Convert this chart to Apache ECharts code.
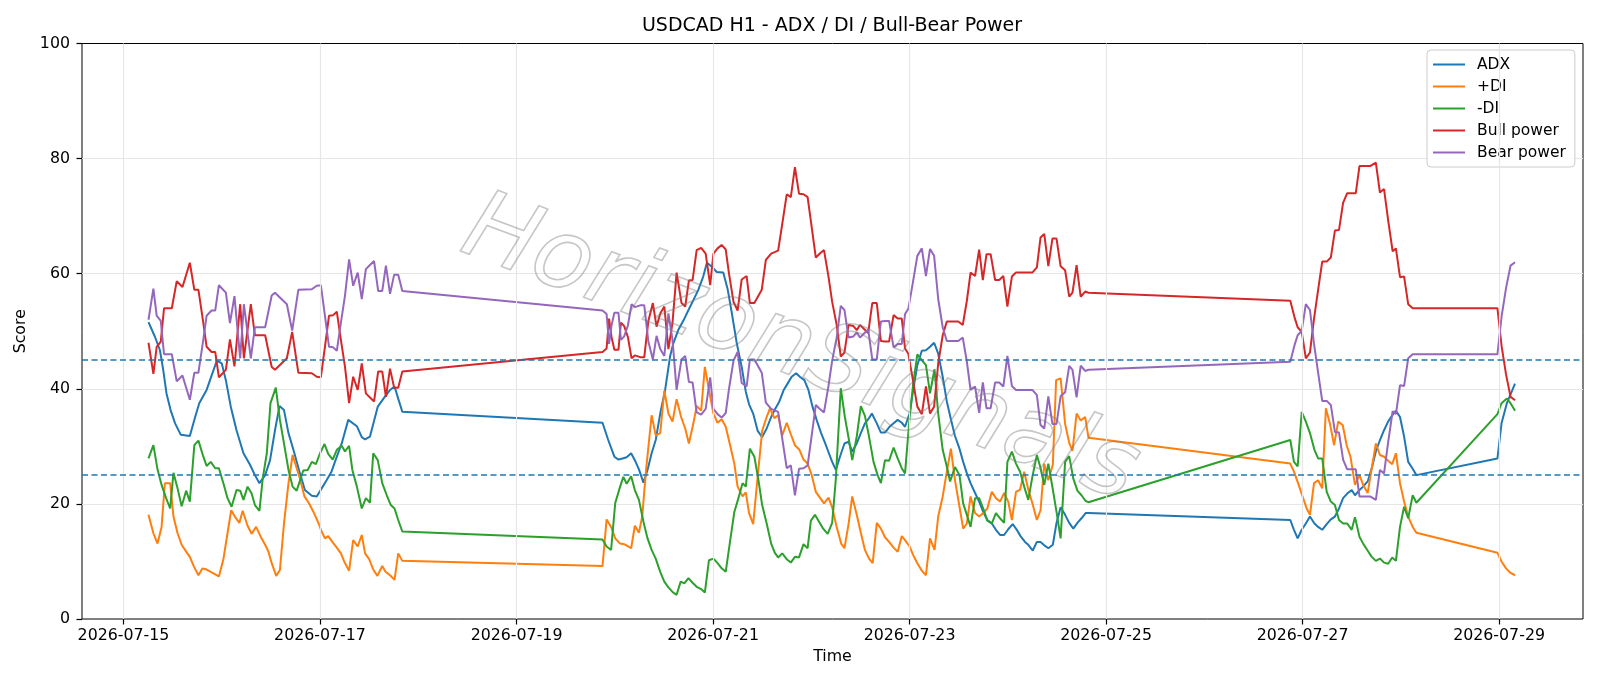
<!DOCTYPE html>
<html>
<head>
<meta charset="utf-8">
<script src="https://cdn.jsdelivr.net/npm/echarts@6.0.0/dist/echarts.min.js"></script>
<style>
  html, body { margin: 0; padding: 0; background: #fff; }
  #chart { width: 1600px; height: 686px; }
</style>
</head>
<body>
<div id="chart"></div>
<script>
// x values are hours since 2026-07-15 00:00
const xTicks = [0, 48, 96, 144, 192, 240, 288, 336];
const yTicks = [0, 20, 40, 60, 80, 100];
const thresholds = [45, 25];

const adx = [
  [6.1,51.6],[7.7,49.0],[8.9,46.7],[9.7,43.3],[10.5,39.2],[11.5,36.3],[12.6,34.0],[14.0,32.0],[16.2,31.8],[17.5,35.1],
  [18.5,37.5],[20.3,39.8],[22.8,44.9],[24.0,44.4],[25.0,41.5],[26.2,36.9],[27.6,32.8],[29.3,28.8],[30.9,26.8],[32.1,25.0],
  [33.2,23.6],[34.6,25.0],[35.8,27.6],[37.0,32.8],[38.1,37.0],[39.2,36.3],[40.3,32.3],[41.5,29.4],[43.1,25.3],[44.3,22.4],
  [46.0,21.4],[47.2,21.3],[48.4,22.7],[49.6,24.1],[50.8,25.6],[52.1,28.2],[53.3,30.5],[54.9,34.6],[57.0,33.5],[58.2,31.6],
  [59.0,31.2],[60.2,31.7],[62.1,36.9],[63.5,38.3],[65.1,39.8],[66.2,40.4],[67.1,38.3],[68.1,36.0],
  [117.0,34.1],[118.4,31.1],[119.9,28.2],[120.9,27.7],[121.9,27.9],[122.9,28.1],[124.0,28.8],[124.9,27.6],[125.9,26.0],[127.0,23.7],
  [128.0,25.9],[129.0,28.8],[130.0,31.1],[131.1,35.7],[132.3,39.8],[133.5,45.6],[134.3,47.9],[135.5,50.2],[136.8,51.9],[138.0,53.7],
  [139.2,55.4],[140.4,57.2],[141.6,59.5],[142.5,61.9],[143.7,61.2],[144.9,60.3],[146.5,60.2],[147.6,57.2],[148.6,53.1],[149.8,47.9],
  [151.0,43.8],[152.0,39.5],[152.8,37.3],[153.8,35.7],[154.9,32.7],[156.0,31.6],[157.1,33.1],[158.2,35.1],[159.1,36.4],[160.2,37.8],
  [161.2,39.7],[162.2,40.9],[163.2,42.1],[164.3,42.7],[165.2,42.1],[166.3,41.5],[167.3,39.8],[168.3,36.9],[169.3,34.6],[170.4,32.3],
  [171.4,30.5],[172.3,28.8],[173.1,27.3],[174.0,25.9],[175.0,28.2],[176.1,30.5],[177.1,30.8],[178.0,29.1],[179.1,30.5],[180.1,32.3],
  [181.1,34.0],[182.1,34.9],[182.8,35.7],[184.0,34.0],[185.0,32.4],[186.0,32.4],[187.0,33.3],[188.1,34.0],[189.1,34.6],[190.1,34.1],
  [190.9,33.4],[192.0,35.7],[192.9,39.8],[193.9,44.1],[195.0,46.6],[196.0,46.7],[197.0,47.3],[198.0,48.0],[199.0,46.1],[200.1,42.1],
  [201.1,37.8],[202.1,34.7],[203.1,31.8],[204.2,29.6],[205.1,27.3],[206.0,25.3],[206.9,23.6],[208.0,21.9],[209.0,20.4],[210.0,18.6],
  [211.0,17.2],[212.1,16.6],[213.1,15.5],[214.1,14.6],[215.1,14.6],[216.1,15.6],[217.2,16.5],[218.2,15.5],[219.1,14.4],[220.2,13.4],
  [221.0,12.9],[222.1,11.9],[223.1,13.4],[224.0,13.4],[225.1,12.7],[225.9,12.3],[227.0,12.9],[227.9,16.7],[228.9,19.4],[230.0,18.1],
  [231.0,16.7],[232.0,15.7],[233.0,16.7],[234.0,17.5],[235.0,18.4],[235.7,18.4],
  [285.0,17.2],[285.9,15.5],[286.8,14.0],[287.8,15.5],[288.8,16.6],[289.8,17.8],[290.9,16.6],[291.8,16.0],[292.8,15.5],[293.9,16.5],
  [294.9,17.3],[295.9,17.8],[296.9,19.2],[297.9,21.0],[298.9,21.8],[300.0,22.4],[300.8,21.5],[301.9,22.4],[302.8,23.0],[303.9,23.9],
  [304.9,26.2],[305.9,29.1],[306.9,31.1],[307.9,32.8],[308.9,34.3],[309.9,35.4],[310.8,36.2],[311.8,35.1],[312.8,31.7],[313.8,27.3],
  [314.9,26.1],[315.8,25.0],
  [335.6,27.9],[336.6,34.0],[337.9,37.5],[339.9,40.9]
];

const plusDI = [
  [6.1,18.1],[7.3,14.9],[8.3,13.1],[9.3,16.0],[10.1,23.6],[11.4,23.6],[12.2,17.8],[13.2,14.9],[14.2,12.9],[15.3,11.7],
  [16.2,10.8],[17.2,9.1],[18.3,7.6],[19.3,8.8],[20.3,8.6],[21.3,8.2],[23.3,7.4],[24.4,10.4],[25.4,14.9],[26.3,18.9],
  [27.2,17.8],[28.3,16.7],[29.1,18.8],[30.3,16.2],[31.3,14.8],[32.4,16.0],[33.5,14.3],[34.6,12.9],[35.4,11.7],[36.2,9.7],
  [37.3,7.5],[38.2,8.5],[39.2,16.6],[40.3,23.6],[41.3,28.5],[43.1,24.4],[44.2,21.3],[45.3,20.1],[46.4,18.6],[47.6,16.7],
  [48.4,15.2],[49.2,14.0],[50.0,14.4],[51.0,13.4],[52.1,12.4],[53.1,11.4],[53.9,10.0],[55.1,8.4],[56.1,13.7],[57.2,12.6],
  [58.2,14.6],[59.0,11.4],[60.0,10.4],[61.0,8.6],[62.0,7.5],[63.2,9.2],[64.0,8.2],[65.1,7.6],[66.2,6.8],[67.1,11.4],[68.1,10.1],
  [117.0,9.2],[118.0,17.3],[119.1,16.0],[120.1,14.0],[121.3,13.1],[122.3,13.0],[124.0,12.3],[124.9,16.2],[125.9,15.0],[126.7,17.8],
  [127.6,25.6],[129.0,35.4],[130.0,31.9],[131.1,32.3],[132.1,39.7],[133.1,35.7],[134.1,34.3],[135.1,38.2],[136.2,35.1],[137.2,33.1],
  [138.1,30.5],[139.2,34.0],[140.0,37.0],[141.1,36.2],[142.0,43.8],[143.0,39.8],[144.1,35.7],[145.1,34.1],[146.1,34.7],[147.1,33.4],
  [148.2,30.1],[149.2,27.0],[150.0,23.0],[151.2,21.3],[152.0,22.0],[152.8,18.4],[153.8,16.5],[154.9,24.7],[156.0,32.7],[157.1,35.1],
  [157.9,36.6],[159.0,34.9],[159.9,35.4],[160.9,31.9],[162.0,34.1],[163.0,32.1],[164.0,30.2],[165.1,29.4],[166.1,27.7],[167.1,27.0],
  [168.1,25.0],[169.1,22.1],[170.1,21.1],[171.1,20.1],[172.2,21.1],[173.1,19.4],[174.2,16.0],[175.3,13.1],[176.1,12.3],[177.1,16.5],
  [178.0,21.3],[179.1,18.1],[180.1,15.0],[181.1,12.0],[182.1,10.5],[183.0,9.7],[184.0,16.7],[185.0,15.7],[186.0,14.2],[187.0,13.4],
  [188.1,12.4],[189.1,11.7],[190.1,14.4],[190.9,13.7],[192.0,12.6],[192.9,11.1],[193.9,9.7],[195.0,8.4],[196.0,7.6],[197.0,14.0],
  [198.1,12.0],[199.0,17.8],[200.1,21.3],[201.1,25.6],[202.1,29.6],[203.1,24.1],[204.2,19.5],[205.1,15.7],[206.0,16.6],[206.9,21.3],
  [208.0,18.4],[209.0,17.8],[210.0,18.4],[211.0,19.2],[212.1,22.1],[213.1,21.0],[214.1,20.4],[215.1,21.9],[216.1,20.4],[217.0,17.2],
  [218.0,22.1],[219.0,22.5],[220.0,25.6],[221.0,22.5],[222.0,20.1],[223.1,17.2],[224.0,18.9],[224.9,27.0],[225.9,24.1],[227.0,26.8],
  [227.8,41.5],[228.9,41.8],[230.0,33.9],[231.0,30.6],[231.8,29.2],[232.8,35.7],[233.8,34.5],[234.9,35.1],[235.7,31.5],
  [285.0,27.0],[285.9,25.6],[286.9,23.6],[288.0,21.3],[289.0,19.2],[289.8,18.1],[290.8,23.6],[291.8,24.1],[292.8,22.7],[293.7,36.6],
  [294.7,33.9],[295.7,30.2],[296.7,34.3],[297.8,33.7],[298.8,30.1],[299.7,28.2],[300.8,23.3],[301.9,25.0],[302.8,23.3],[303.9,21.9],
  [304.9,26.2],[305.9,30.5],[306.9,28.5],[307.9,28.2],[308.9,27.5],[309.9,26.9],[310.8,28.8],[311.8,23.6],[312.8,20.4],[313.8,17.8],
  [314.9,16.0],[315.8,15.0],
  [335.6,11.5],[336.6,10.0],[337.7,8.8],[338.8,8.0],[339.9,7.6]
];

const minusDI = [
  [6.1,27.9],[7.3,30.2],[8.3,26.0],[9.3,23.3],[10.4,21.0],[11.4,19.2],[12.2,25.4],[13.1,23.0],[14.2,19.6],[15.3,22.3],
  [16.2,20.4],[17.3,30.2],[18.3,31.0],[19.5,28.2],[20.3,26.6],[21.3,27.3],[22.4,26.2],[23.3,26.2],[24.4,23.6],[25.4,21.0],
  [26.4,19.5],[27.6,22.4],[28.5,22.3],[29.3,20.7],[30.3,23.0],[31.3,21.8],[32.1,19.8],[33.2,18.8],[34.0,24.4],[35.0,28.8],
  [35.9,37.5],[37.2,40.2],[38.2,34.6],[39.2,30.5],[40.3,25.9],[41.3,23.0],[42.3,22.3],[43.9,25.8],[45.0,25.9],[46.0,27.3],
  [47.0,26.9],[48.0,28.8],[49.1,30.4],[50.0,28.7],[51.1,27.7],[52.1,29.4],[53.3,30.1],[54.1,29.1],[55.1,30.1],[55.9,25.9],
  [57.0,23.0],[58.2,19.2],[59.2,21.0],[60.2,20.2],[61.0,28.8],[62.1,27.6],[63.2,23.6],[64.3,21.5],[65.3,19.8],[66.2,19.2],
  [67.1,17.2],[68.1,15.2],
  [117.0,13.8],[118.0,12.6],[119.1,12.0],[120.1,20.1],[121.3,23.0],[122.1,24.7],[122.9,23.5],[124.0,24.8],[124.9,22.4],[125.9,20.7],
  [127.0,16.9],[128.0,14.0],[129.0,12.0],[130.0,10.5],[131.1,8.2],[132.1,6.5],[133.1,5.5],[134.1,4.7],[135.1,4.2],[136.1,6.5],
  [137.0,6.2],[138.0,7.1],[139.0,6.3],[140.0,5.6],[141.1,5.2],[142.0,4.6],[143.0,10.2],[144.1,10.5],[145.1,9.7],[146.1,8.8],
  [147.1,8.2],[148.2,13.7],[149.2,18.6],[150.2,21.0],[151.2,23.6],[152.0,23.0],[153.0,29.6],[154.1,28.2],[155.1,24.1],[156.0,19.8],
  [157.1,16.6],[158.2,13.1],[159.1,11.5],[159.9,10.7],[160.9,11.4],[162.0,10.4],[163.0,9.8],[164.0,10.8],[165.0,10.7],[166.1,13.0],
  [167.1,12.3],[167.9,17.1],[168.9,18.1],[169.9,16.9],[170.9,15.7],[172.0,14.8],[173.1,16.7],[174.0,24.4],[175.2,40.1],[176.2,35.1],
  [177.2,31.1],[178.0,27.6],[179.1,31.7],[180.1,37.0],[181.1,35.3],[182.1,31.7],[183.2,27.3],[184.2,25.0],[185.0,23.6],[186.0,27.6],
  [187.0,27.5],[188.1,29.8],[189.1,27.9],[190.1,26.2],[190.9,25.3],[192.0,34.9],[192.9,40.9],[193.9,46.0],[195.0,45.0],[196.0,44.1],
  [197.0,39.2],[198.1,43.4],[199.0,35.7],[200.1,29.4],[201.1,26.5],[201.9,23.9],[203.1,26.4],[204.2,25.0],[205.1,20.1],[206.0,18.1],
  [206.9,16.0],[208.0,21.0],[209.0,21.0],[210.0,19.2],[211.0,17.1],[212.1,16.6],[213.1,18.4],[214.1,17.5],[215.1,16.7],[215.9,27.3],
  [217.0,29.1],[218.0,27.0],[219.0,25.6],[220.0,23.0],[221.0,20.7],[222.0,24.7],[223.1,28.5],[223.9,26.5],[224.9,23.3],[225.9,27.0],
  [227.0,22.5],[227.9,18.6],[228.9,14.0],[230.0,27.3],[231.0,28.3],[232.0,24.4],[233.0,22.3],[234.0,21.5],[235.0,20.5],[235.7,20.3],
  [285.0,31.1],[285.9,27.3],[286.8,26.5],[287.8,36.0],[288.8,34.3],[289.8,32.3],[290.9,29.4],[291.8,27.9],[292.8,27.9],[293.9,22.1],
  [294.9,20.4],[295.9,19.8],[296.9,17.2],[297.9,16.6],[298.9,16.6],[300.0,15.5],[300.8,17.7],[301.9,14.3],[302.8,13.1],[303.8,12.0],
  [304.9,10.8],[305.9,10.1],[306.9,10.5],[307.9,9.8],[308.9,9.6],[309.9,10.7],[310.8,10.1],[311.8,16.0],[312.8,19.5],[313.8,17.5],
  [314.9,21.5],[315.8,20.2],
  [335.6,35.6],[336.6,37.5],[337.9,38.3],[338.8,37.5],[339.9,36.2]
];

const bullPower = [
  [6.1,48.0],[7.3,42.6],[8.1,47.3],[9.1,48.2],[9.9,54.0],[11.8,54.0],[13.0,58.7],[14.4,57.7],[16.2,61.9],[17.3,57.2],
  [18.3,57.2],[19.5,51.4],[20.3,47.3],[21.5,46.4],[22.4,46.4],[23.3,42.0],[25.0,43.3],[26.0,48.6],[27.1,43.9],[28.5,54.7],
  [29.4,45.3],[31.1,54.7],[32.1,49.3],[34.6,49.3],[36.2,43.8],[37.0,43.3],[39.9,45.3],[41.2,49.9],[42.7,42.8],[46.0,42.7],
  [47.2,42.1],[48.2,42.0],[49.2,47.3],[50.2,52.7],[51.2,52.8],[52.1,53.4],[53.1,48.5],[54.1,43.8],[55.1,37.5],[56.1,42.1],
  [57.2,39.8],[58.2,44.4],[59.2,39.2],[60.2,38.5],[61.2,37.8],[62.2,43.0],[63.2,43.0],[64.1,38.6],[65.1,43.5],[66.1,40.2],
  [67.1,40.2],[68.1,43.0],
  [117.0,46.4],[118.0,47.0],[118.6,52.2],[119.2,49.0],[119.9,46.8],[120.9,46.8],[121.5,51.5],[122.3,50.9],[123.2,49.0],[124.1,45.3],
  [124.9,45.8],[126.2,45.5],[127.2,45.5],[128.2,51.8],[129.3,54.9],[130.2,50.8],[131.1,53.1],[132.1,54.3],[133.1,46.9],[134.1,51.5],
  [135.1,60.2],[136.3,54.9],[137.2,54.3],[138.1,58.8],[139.0,58.9],[140.0,64.1],[141.1,64.5],[142.2,63.5],[143.3,58.0],[144.1,63.5],
  [145.1,64.4],[146.1,65.0],[147.1,64.2],[147.9,60.0],[149.0,55.1],[150.0,53.6],[151.0,59.0],[152.2,59.6],[153.0,54.9],[154.1,54.9],
  [155.9,57.2],[156.9,62.4],[158.2,63.5],[159.9,64.0],[160.9,68.6],[162.0,73.8],[163.0,73.3],[164.0,78.5],[165.0,73.9],[166.1,73.8],
  [167.1,73.3],[168.1,68.1],[169.1,62.8],[170.1,63.5],[171.1,64.1],[172.2,59.5],[173.1,55.1],[174.2,51.1],[175.2,45.6],[176.1,46.3],
  [177.1,51.1],[178.3,50.9],[179.1,50.2],[179.9,51.1],[181.0,50.3],[181.9,49.7],[182.9,54.9],[184.0,54.9],[185.0,48.3],[186.0,48.2],
  [187.0,48.2],[188.1,52.8],[189.1,52.2],[190.1,52.2],[190.9,47.0],[191.7,46.1],[192.8,41.6],[193.9,36.9],[195.0,35.6],[196.0,40.4],
  [197.0,35.7],[198.0,36.9],[199.0,44.4],[200.1,49.3],[201.1,51.7],[203.9,51.7],[205.0,51.1],[206.0,55.3],[206.9,60.2],[208.0,59.6],
  [209.0,64.2],[209.9,58.9],[210.8,63.4],[211.8,63.4],[212.9,58.9],[213.9,58.9],[214.9,59.6],[215.9,54.3],[217.0,59.5],[218.0,60.2],
  [222.0,60.2],[223.1,61.1],[224.0,66.3],[224.9,66.9],[225.9,61.3],[226.9,66.1],[227.9,66.1],[228.9,61.3],[230.0,60.6],[231.0,56.0],
  [231.8,56.7],[232.8,61.5],[233.8,56.0],[234.9,56.9],[235.7,56.7],
  [285.0,55.3],[286.0,52.5],[286.8,50.7],[287.8,49.9],[288.8,45.3],[289.8,46.3],[290.8,52.2],[291.8,57.2],[292.8,62.1],[293.9,62.1],
  [294.9,62.8],[295.9,67.5],[296.9,67.6],[297.9,72.3],[298.9,74.0],[301.0,74.0],[301.9,78.7],[304.5,78.7],[305.9,79.3],[306.9,74.1],
  [307.9,74.7],[308.9,69.3],[310.0,63.9],[310.8,64.4],[311.8,59.4],[312.8,59.5],[313.8,54.7],[314.9,54.0],[315.8,54.0],
  [335.6,54.0],[336.6,47.5],[337.7,42.5],[338.8,38.6],[339.9,38.0]
];

const bearPower = [
  [6.1,52.0],[7.3,57.4],[8.1,52.7],[9.1,51.8],[9.9,46.0],[11.8,46.0],[13.0,41.3],[14.4,42.3],[16.2,38.1],[17.3,42.8],
  [18.3,42.8],[19.5,48.6],[20.3,52.7],[21.5,53.6],[22.4,53.6],[23.3,58.0],[25.0,56.7],[26.0,51.4],[27.1,56.1],[28.5,45.3],
  [29.4,54.7],[31.1,45.3],[32.1,50.7],[34.6,50.7],[36.2,56.2],[37.0,56.7],[39.9,54.7],[41.2,50.1],[42.7,57.2],[46.0,57.3],
  [47.2,57.9],[48.2,58.0],[49.2,52.7],[50.2,47.3],[51.2,47.2],[52.1,46.6],[53.1,51.5],[54.1,56.2],[55.1,62.5],[56.1,57.9],
  [57.2,60.2],[58.2,55.6],[59.2,60.8],[60.2,61.5],[61.2,62.2],[62.2,57.0],[63.2,57.0],[64.1,61.4],[65.1,56.5],[66.1,59.8],
  [67.1,59.8],[68.1,57.0],
  [117.0,53.6],[118.0,53.0],[118.6,47.8],[119.2,51.0],[119.9,53.2],[120.9,53.2],[121.5,48.5],[122.3,49.1],[123.2,51.0],[124.1,54.7],
  [124.9,54.2],[126.2,54.5],[127.2,54.5],[128.2,48.2],[129.3,45.1],[130.2,49.2],[131.1,46.9],[132.1,45.7],[133.1,53.1],[134.1,48.5],
  [135.1,39.8],[136.3,45.1],[137.2,45.7],[138.1,41.2],[139.0,41.1],[140.0,35.9],[141.1,35.5],[142.2,36.5],[143.3,42.0],[144.1,36.5],
  [145.1,35.6],[146.1,35.0],[147.1,35.8],[147.9,40.0],[149.0,44.9],[150.0,46.4],[151.0,41.0],[152.2,40.4],[153.0,45.1],[154.1,45.1],
  [155.9,42.8],[156.9,37.6],[158.2,36.5],[159.9,36.0],[160.9,31.4],[162.0,26.2],[163.0,26.7],[164.0,21.5],[165.0,26.1],[166.1,26.2],
  [167.1,26.7],[168.1,31.9],[169.1,37.2],[170.1,36.5],[171.1,35.9],[172.2,40.5],[173.1,44.9],[174.2,48.9],[175.2,54.4],[176.1,53.7],
  [177.1,48.9],[178.3,49.1],[179.1,49.8],[179.9,48.9],[181.0,49.7],[181.9,50.3],[182.9,45.1],[184.0,45.1],[185.0,51.7],[186.0,51.8],
  [187.0,51.8],[188.1,47.2],[189.1,47.8],[190.1,47.8],[190.9,53.0],[191.7,53.9],[192.8,58.4],[193.9,63.1],[195.0,64.4],[196.0,59.6],
  [197.0,64.3],[198.0,63.1],[199.0,55.6],[200.1,50.7],[201.1,48.3],[203.9,48.3],[205.0,48.9],[206.0,44.7],[206.9,39.8],[208.0,40.4],
  [209.0,35.8],[209.9,41.1],[210.8,36.6],[211.8,36.6],[212.9,41.1],[213.9,41.1],[214.9,40.4],[215.9,45.7],[217.0,40.5],[218.0,39.8],
  [222.0,39.8],[223.1,38.9],[224.0,33.7],[224.9,33.1],[225.9,38.7],[226.9,33.9],[227.9,33.9],[228.9,38.7],[230.0,39.4],[231.0,44.0],
  [231.8,43.3],[232.8,38.5],[233.8,44.0],[234.9,43.1],[235.7,43.3],
  [285.0,44.7],[286.0,47.5],[286.8,49.3],[287.8,50.1],[288.8,54.7],[289.8,53.7],[290.8,47.8],[291.8,42.8],[292.8,37.9],[293.9,37.9],
  [294.9,37.2],[295.9,32.5],[296.9,32.4],[297.9,27.7],[298.9,26.0],[301.0,26.0],[301.9,21.3],[304.5,21.3],[305.9,20.7],[306.9,25.9],
  [307.9,25.3],[308.9,30.7],[310.0,36.1],[310.8,35.6],[311.8,40.6],[312.8,40.5],[313.8,45.3],[314.9,46.0],[315.8,46.0],
  [335.6,46.0],[336.6,52.5],[337.7,57.5],[338.8,61.4],[339.9,62.0]
];

const seriesList = [
  ['ADX', adx, '#1f77b4'],
  ['+DI', plusDI, '#ff7f0e'],
  ['-DI', minusDI, '#2ca02c'],
  ['Bull power', bullPower, '#d62728'],
  ['Bear power', bearPower, '#9467bd'],
];

const FONT = 'DejaVu Sans';
const day0 = Date.UTC(2026, 6, 15);
const fmtDate = (h) => new Date(day0 + h * 3600e3).toISOString().slice(0, 10);

const chart = echarts.init(document.getElementById('chart'), null, { renderer: 'canvas' });
chart.setOption({
  animation: false,
  backgroundColor: '#fff',
  title: {
    text: 'USDCAD H1 - ADX / DI / Bull-Bear Power',
    left: 832, top: 17, padding: 0, textAlign: 'center',
    textStyle: { fontFamily: FONT, fontSize: 19, fontWeight: 'normal', color: '#000' }
  },
  legend: {
    data: seriesList.map(s => s[0]),
    orient: 'vertical',
    left: 1427, top: 50,
    padding: [6.5, 9, 6.5, 6],
    itemGap: 6, itemWidth: 32, itemHeight: 2,
    icon: 'rect',
    backgroundColor: 'rgba(255,255,255,0.85)',
    borderColor: '#cccccc', borderWidth: 1, borderRadius: 4,
    textStyle: { fontFamily: FONT, fontSize: 15.5, color: '#000', lineHeight: 16, padding: [0, 0, 0, 7] }
  },
  grid: {
    left: 82, right: 17, top: 43.5, bottom: 67,
    show: true, borderColor: '#000', borderWidth: 1, backgroundColor: 'transparent'
  },
  xAxis: {
    type: 'value', min: -10.14, max: 356.5,
    name: 'Time', nameLocation: 'middle', nameGap: 28,
    nameTextStyle: { fontFamily: FONT, fontSize: 15.8, color: '#000' },
    axisLine: { show: false, onZero: false },
    splitLine: { show: false },
    axisTick: { show: true, customValues: xTicks, length: 5.5, lineStyle: { color: '#000', width: 1.2 } },
    axisLabel: { customValues: xTicks, formatter: fmtDate, margin: 9, fontFamily: FONT, fontSize: 15.8, color: '#000' }
  },
  yAxis: {
    type: 'value', min: 0, max: 100, interval: 20,
    name: 'Score', nameLocation: 'middle', nameGap: 41,
    nameTextStyle: { fontFamily: FONT, fontSize: 15.8, color: '#000' },
    axisLine: { show: false, onZero: false },
    splitLine: { show: true, showMinLine: false, showMaxLine: false, lineStyle: { color: '#e6e6e6', width: 1.2 } },
    axisTick: { show: true, length: 5.5, lineStyle: { color: '#000', width: 1.2 } },
    axisLabel: { margin: 12, fontFamily: FONT, fontSize: 15.8, color: '#000', formatter: (v) => yTicks.includes(v) ? String(v) : '' }
  },
  series: [
    {
      name: 'xgrid', type: 'line', data: [], silent: true, z: 1,
      markLine: {
        silent: true, symbol: 'none', animation: false, label: { show: false },
        lineStyle: { color: '#e6e6e6', width: 1.2, type: 'solid' },
        data: xTicks.map(v => ({ xAxis: v }))
      }
    },
    {
      name: 'thresholds', type: 'line', data: [], silent: true, z: 2,
      markLine: {
        silent: true, symbol: 'none', animation: false, label: { show: false },
        lineStyle: { color: '#1f77b4', width: 1.6, type: [6, 3.5] },
        data: thresholds.map(v => ({ yAxis: v }))
      }
    },
    ...seriesList.map(([name, data, color]) => ({
      name, type: 'line', data, z: 3,
      symbol: 'none', showSymbol: false,
      itemStyle: { color },
      lineStyle: { color, width: 2 },
      emphasis: { disabled: true }
    }))
  ],
  graphic: [{
    type: 'text', x: 800, y: 352, rotation: -0.36, z: 100, silent: true,
    style: {
      text: 'HorizonSignals',
      fontFamily: FONT, fontSize: 96, fontStyle: 'italic', fontWeight: 'normal',
      fill: 'rgba(255,255,255,0)',
      stroke: 'rgba(120,120,120,0.42)', lineWidth: 1.6,
      align: 'center', verticalAlign: 'middle'
    }
  }]
});
</script>
</body>
</html>
